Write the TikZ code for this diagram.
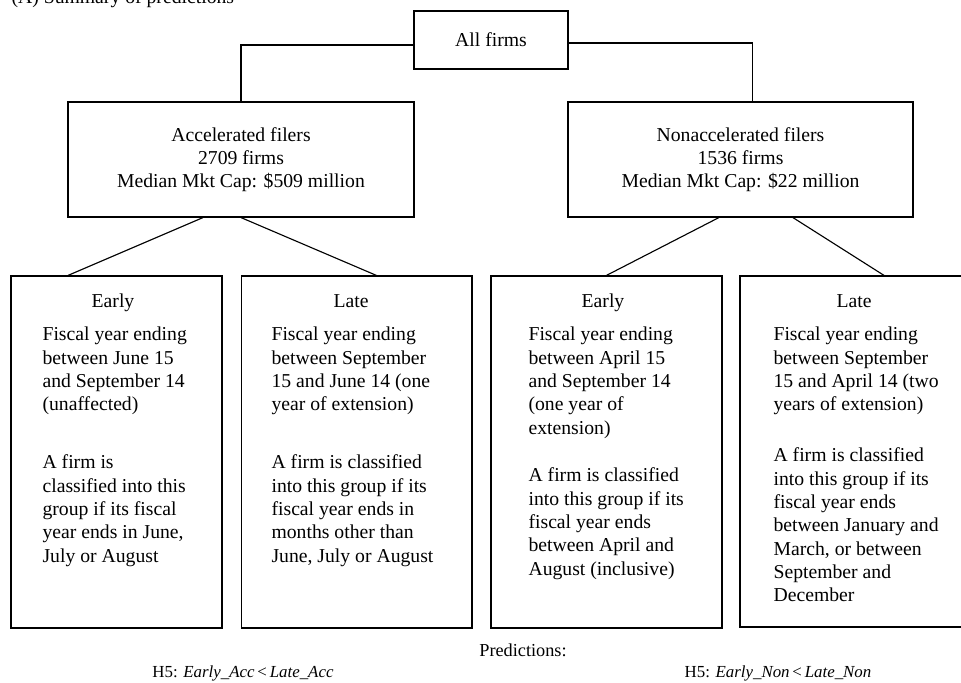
\documentclass[tikz,border=0pt]{standalone}
\usepackage{fontspec}
\setmainfont{Liberation Serif}
\begin{document}
\begin{tikzpicture}[x=0.025cm, y=-0.025cm, line width=0.8pt,
  box/.style={draw, inner sep=0pt, align=center, font=\fontsize{14}{16.4}\selectfont},
  head/.style={anchor=base, inner sep=0pt, font=\fontsize{14}{16.4}\selectfont},
  para/.style={anchor=north west, inner sep=0pt, align=left, font=\fontsize{14}{16.6}\selectfont}]
\useasboundingbox (0,0) rectangle (961,683);
\node [anchor=base west, inner sep=0pt, font=\fontsize{14}{16}\selectfont] (title) at (11,4) {(A) Summary of predictions};
% top of the tree
\node [box, minimum width=3.85cm, minimum height=1.45cm] (all) at (491,40) {All firms};
\node [box, minimum width=8.65cm, minimum height=2.875cm] (acc) at (241,159.5) {Accelerated filers\\2709 firms\\Median Mkt Cap: \$509 million};
\node [box, minimum width=8.625cm, minimum height=2.875cm] (non) at (740.5,159.5) {Nonaccelerated filers\\1536 firms\\Median Mkt Cap: \$22 million};
\draw ([yshift=-0.125cm]all.west) -| (acc.north);
\draw ([yshift=-0.075cm]all.east) -| ([xshift=0.29cm]non.north);
% groups
\node [box, minimum width=5.275cm, minimum height=8.8cm] (early1) at (116.5,452) {};
\node [box, minimum width=5.76cm, minimum height=8.8cm] (late1) at (356.75,452) {};
\node [box, minimum width=5.775cm, minimum height=8.8cm] (early2) at (606.5,452) {};
\node [box, minimum width=5.8cm, minimum height=8.775cm] (late2) at (856,451.5) {};
\draw ([xshift=-0.95cm]acc.south) -- ([xshift=-1.21cm]early1.north);
\draw (acc.south) -- ([xshift=0.49cm]late1.north);
\draw ([xshift=-0.54cm]non.south) -- (early2.north);
\draw ([xshift=1.31cm]non.south) -- ([xshift=0.7cm]late2.north);
\node [head] (h1) at (113,307) {Early};
\node [head] (h2) at (351,307) {Late};
\node [head] (h3) at (603,307) {Early};
\node [head] (h4) at (854,307) {Late};
\node [para] (p1a) at (42,326.5) {Fiscal year ending\\between June 15\\and September 14\\(unaffected)};
\node [para] (p1b) at (42,454.5) {A firm is\\classified into this\\group if its fiscal\\year ends in June,\\July or August};
\node [para] (p2a) at (271,326.5) {Fiscal year ending\\between September\\15 and June 14 (one\\year of extension)};
\node [para] (p2b) at (271,454.5) {A firm is classified\\into this group if its\\fiscal year ends in\\months other than\\June, July or August};
\node [para] (p3a) at (528,326.5) {Fiscal year ending\\between April 15\\and September 14\\(one year of\\extension)};
\node [para] (p3b) at (528,467.5) {A firm is classified\\into this group if its\\fiscal year ends\\between April and\\August (inclusive)};
\node [para] (p4a) at (773,326.5) {Fiscal year ending\\between September\\15 and April 14 (two\\years of extension)};
\node [para] (p4b) at (773,447.5) {A firm is classified\\into this group if its\\fiscal year ends\\between January and\\March, or between\\September and\\December};
% predictions
\node [anchor=base, inner sep=0pt, font=\fontsize{13}{15}\selectfont] (pred) at (523,656) {Predictions:};
\node [anchor=base, inner sep=0pt, font=\fontsize{12}{14}\selectfont] (hacc) at (243,677) {H5: \textit{Early\_Acc}\,<\,\textit{Late\_Acc}};
\node [anchor=base, inner sep=0pt, font=\fontsize{12}{14}\selectfont] (hnon) at (778,677) {H5: \textit{Early\_Non}\,<\,\textit{Late\_Non}};
\end{tikzpicture}
\end{document}
